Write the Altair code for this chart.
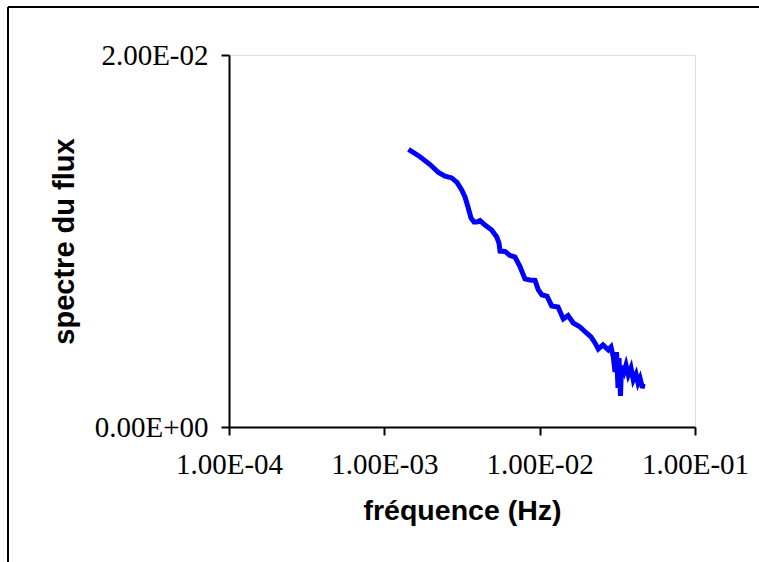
import altair as alt
import pandas as pd

# Frequency (Hz) and flux spectrum values
freq = [0.001431, 0.001697, 0.001968, 0.002232, 0.002459, 0.002715, 0.002937, 0.003148,
        0.003306, 0.003456, 0.003614, 0.003778, 0.00395, 0.004129, 0.004447, 0.004912,
        0.00529, 0.005473, 0.005556, 0.005983, 0.006442, 0.006939, 0.00747, 0.008045,
        0.008666, 0.009333, 0.009802, 0.01035, 0.01115, 0.01195, 0.01313, 0.0142,
        0.01522, 0.01646, 0.01818, 0.02009, 0.02141, 0.02271, 0.02385, 0.02557,
        0.02766, 0.02879, 0.02979, 0.03055, 0.03124, 0.03194, 0.03242, 0.03314,
        0.03364, 0.03491, 0.03596, 0.03721, 0.03873, 0.04008, 0.04171, 0.04297,
        0.04426, 0.0456, 0.04767]
spectre = [0.01493, 0.01453, 0.01411, 0.01368, 0.01349, 0.01339, 0.01315, 0.01274,
           0.01237, 0.01183, 0.01124, 0.01102, 0.01102, 0.01110, 0.01086, 0.01059,
           0.01022, 0.00989, 0.00946, 0.00944, 0.00922, 0.00914, 0.00862, 0.00796,
           0.00790, 0.00788, 0.00737, 0.00710, 0.00704, 0.00651, 0.00645, 0.00581,
           0.00599, 0.00559, 0.00538, 0.00504, 0.00484, 0.00452, 0.00419, 0.00441,
           0.00414, 0.00430, 0.00376, 0.00296, 0.00403, 0.00210, 0.00371, 0.00167,
           0.00328, 0.00296, 0.00333, 0.00280, 0.00317, 0.00253, 0.00285, 0.00237,
           0.00263, 0.00220, 0.00217]

x_ticks = [0.0001, 0.001, 0.01, 0.1]
x_tick_labels = ["1.00E-04", "1.00E-03", "1.00E-02", "1.00E-01"]
y_ticks = [0.0, 0.02]
y_tick_labels = ["0.00E+00", "2.00E-02"]

df = pd.DataFrame({"freq": freq, "spectre": spectre, "order": list(range(len(freq)))})


def label_expr(values, labels, log=False):
    expr = "''"
    for v, lab in reversed(list(zip(values, labels))):
        if log:
            cond = f"abs(datum.value - {v}) < {v * 1e-6}"
        else:
            cond = f"abs(datum.value - {v}) < 1e-9"
        expr = f"({cond}) ? '{lab}' : {expr}"
    return expr


W, H = 466, 372
PAD_L, PAD_T, PAD_R, PAD_B = 229, 55, 64, 135

line = alt.Chart(df).mark_line(color="#0000FF", strokeWidth=5, clip=False).encode(
    x=alt.X("freq:Q",
            scale=alt.Scale(type="log", domain=[x_ticks[0], x_ticks[-1]], nice=False),
            axis=alt.Axis(values=x_ticks, labelExpr=label_expr(x_ticks, x_tick_labels, True),
                          title="fréquence (Hz)", grid=False,
                          labelFont="Liberation Serif", labelFontSize=29, labelColor="black",
                          labelPadding=15, labelFlush=False, labelOverlap=False,
                          tickSize=8, tickColor="black", tickWidth=2,
                          domainColor="black", domainWidth=2,
                          titleFont="Liberation Sans", titleFontSize=28.5, titleFontWeight="bold",
                          titleColor="black", titleY=83, titleBaseline="middle")),
    y=alt.Y("spectre:Q",
            scale=alt.Scale(domain=[y_ticks[0], y_ticks[-1]], nice=False),
            axis=alt.Axis(values=y_ticks, labelExpr=label_expr(y_ticks, y_tick_labels),
                          title="spectre du flux", grid=False,
                          labelFont="Liberation Serif", labelFontSize=29, labelColor="black",
                          labelPadding=13, labelFlush=False, labelOverlap=False,
                          tickSize=8, tickColor="black", tickWidth=2,
                          domainColor="black", domainWidth=2,
                          titleFont="Liberation Sans", titleFontSize=29, titleFontWeight="bold",
                          titleColor="black", titleX=-156, titleY=H / 2,
                          titleBaseline="alphabetic", titleAngle=270)),
    order="order:Q",
)

dummy = pd.DataFrame({"a": [0]})
frame_top = alt.Chart(dummy).mark_rule(color="black", strokeWidth=2, clip=False).encode(
    x=alt.value(8 - PAD_L), x2=alt.value(W + PAD_R), y=alt.value(7 - PAD_T),
)
frame_left = alt.Chart(dummy).mark_rule(color="black", strokeWidth=2, clip=False).encode(
    x=alt.value(8 - PAD_L), y=alt.value(7 - PAD_T), y2=alt.value(H + PAD_B),
)

chart = alt.layer(frame_top, frame_left, line).properties(
    width=W, height=H,
    autosize=alt.AutoSizeParams(type="none"),
    padding={"left": PAD_L, "top": PAD_T, "right": PAD_R, "bottom": PAD_B},
).configure_view(stroke=None).configure(background="white")

chart.save("out.html", embed_options={"renderer": "svg", "actions": False})
